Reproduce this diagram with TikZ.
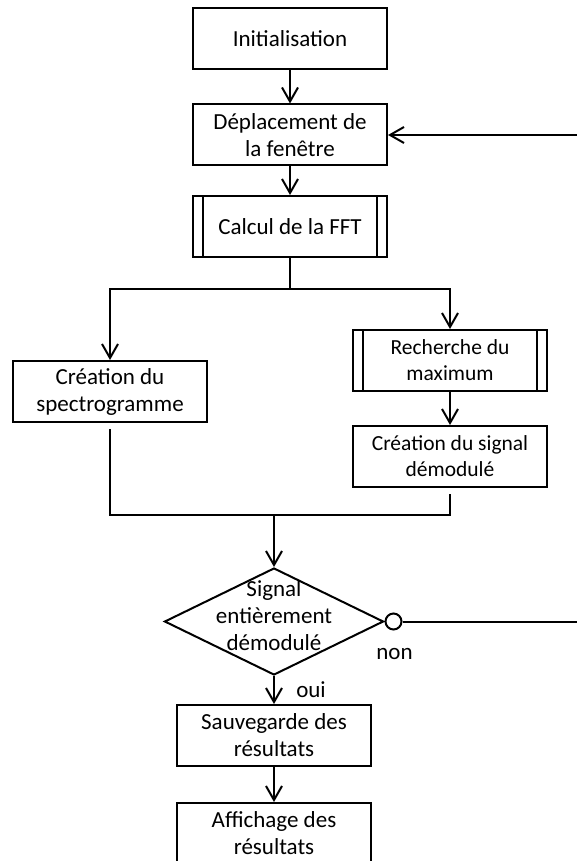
\documentclass[tikz,border=0pt]{standalone}
\usepackage{fontspec}
\setmainfont{Carlito}
\usepackage{tikz}
\usetikzlibrary{positioning,arrows.meta,shapes.geometric,calc}

\begin{document}
\begin{tikzpicture}[x=1pt,y=1pt,line width=2pt,font=\fontsize{23}{27}\selectfont,
      box/.style={draw,minimum width=194pt,minimum height=61pt,align=center,inner sep=2pt},
      smalltext/.style={font=\fontsize{21.5}{26}\selectfont},
      decision/.style={draw,diamond,minimum width=219pt,minimum height=107pt,inner sep=0pt},
      arr/.style={-{Straight Barb[length=14pt,width=16pt]}}]
    \useasboundingbox (0,0) rectangle (577,-861);
    \node[box] (init) at (290,-38.5) {Initialisation};
    \node[box] (depl) at (290,-135) {Déplacement de\\la fenêtre};
    \node[box] (fft) at (290,-226.5) {Calcul de la FFT};
    \node[box] (spectro) at (110,-391.5) {Création du\\spectrogramme};
    \node[box,smalltext] (rech) at (450,-360.5) {Recherche du\\maximum};
    \node[box,smalltext] (signal) at (450,-456.5) {Création du signal\\démodulé};
    \node[decision] (test) at (274,-621.5) {};
    \node[align=center] (testtxt) at (274,-616) {Signal\\entièrement\\démodulé};
    \node[circle,draw,minimum size=16pt,inner sep=0pt,anchor=west] (nonpt) at (test.east) {};
    \node[anchor=base] (non) at (394.5,-659) {non};
    \node[anchor=base] (oui) at (311,-697) {oui};
    \node[box] (sauve) at (274,-735.5) {Sauvegarde des\\résultats};
    \node[box] (affich) at (274,-833.5) {Affichage des\\résultats};
    \foreach \n in {fft,rech}{
      \draw ([xshift=11pt]\n.north west) -- ([xshift=11pt]\n.south west);
      \draw ([xshift=-11pt]\n.north east) -- ([xshift=-11pt]\n.south east);}
    \coordinate (split) at (290,-289);
    \coordinate (merge) at (274,-515);
    \coordinate (back) at ([xshift=220pt]nonpt.east);
    \draw[arr] (init) -- (depl);
    \draw[arr] (depl) -- (fft);
    \draw (fft) -- (split);
    \draw[arr] (split) -| (spectro);
    \draw[arr] (split) -| (rech);
    \draw[arr] (rech) -- (signal);
    \draw[shorten <=6pt] (spectro) |- (merge);
    \draw[shorten <=6pt] (signal) |- (merge);
    \draw[arr] (merge) -- (test);
    \draw[arr] (nonpt) -- (back) |- (depl);
    \draw[arr] (test) -- (sauve);
    \draw[arr] (sauve) -- (affich);
  \end{tikzpicture}
\end{document}
